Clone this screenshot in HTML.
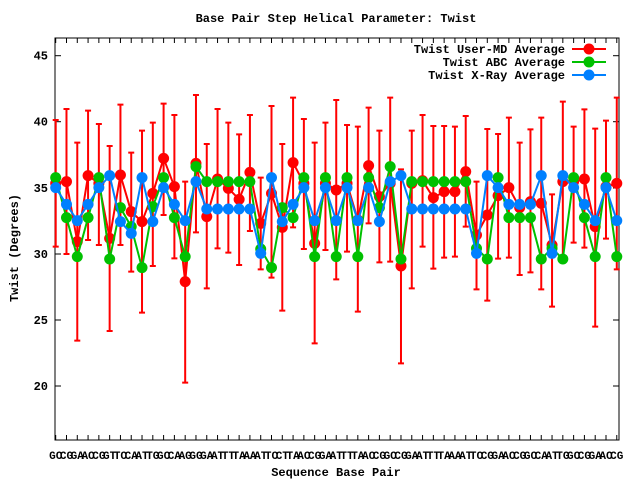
<!DOCTYPE html>
<html><head><meta charset="utf-8"><style>
html,body{margin:0;padding:0;background:#fff;}
svg{display:block;font-family:"Liberation Mono",monospace;font-weight:bold;}
</style></head><body>
<svg id="s" width="640" height="480" xmlns="http://www.w3.org/2000/svg">
<rect width="640" height="480" fill="#fff"/>
<text x="336" y="22" font-size="12" text-anchor="middle">Base Pair Step Helical Parameter: Twist</text>
<text x="336" y="476" font-size="12" text-anchor="middle">Sequence Base Pair</text>
<text transform="translate(18,248) rotate(-90)" font-size="12" text-anchor="middle">Twist (Degrees)</text>
<g id="g"></g>
</svg>
<script>
var R=[460,455,635,437,460,625,435,545,575,490,385,470,755,400,560,447,475,508,427,580,490,592,398,460,640,460,480,460,570,407,500,460,708,460,452,503,485,485,425,615,555,497,473,533,515,520,645,455,455,447,590,470,460];
var G=[443,563,680,563,443,687,533,590,713,530,443,563,680,410,455,455,455,455,455,657,713,533,563,443,680,443,680,443,680,443,533,410,687,455,455,455,455,455,455,655,687,443,563,563,563,687,655,687,443,563,680,443,680];
var B=[473,523,572,523,473,437,575,610,443,575,473,523,572,455,537,537,537,537,537,670,443,575,523,473,572,473,572,473,572,473,575,455,437,537,537,537,537,537,537,670,437,473,523,523,523,437,670,437,473,523,572,473,572];
var ET=[270,237,338,242,282,348,224,368,302,278,221,255,455,195,342,237,278,313,255,443,228,342,203,267,338,278,210,285,290,233,302,203,418,302,255,288,288,290,258,455,297,312,263,338,298,263,493,215,290,238,296,272,203];
var EB=[650,672,932,630,645,903,645,725,848,708,555,685,1058,607,775,655,668,705,603,718,743,842,592,657,940,660,748,665,845,580,697,695,1000,775,650,716,683,680,590,778,812,686,683,735,727,778,830,678,638,653,890,626,718];
var L=["GC","CG","GA","AC","CG","GT","TC","CA","AT","TG","GC","CA","AG","GG","GA","AT","TT","TA","AA","AT","TC","CT","TA","AC","CG","GA","AT","TT","TA","AC","CG","GC","CG","GA","AT","TT","TA","AA","AT","TC","CG","GA","AC","CG","GC","CA","AT","TG","GC","CG","GA","AC","CG"];
var y=function(z){return 30+z/3;}, x=function(i){return 55.7+i*10.79;};
var h='';
h+='<rect x="55" y="38" width="564" height="402" fill="none" stroke="#000" stroke-width="1"/>';
var ticks=[[45,55.7],[40,121.7],[35,188],[30,254],[25,320],[20,386]];
ticks.forEach(function(t){h+='<line x1="55" x2="61" y1="'+t[1]+'" y2="'+t[1]+'" stroke="#000"/><line x1="613" x2="619" y1="'+t[1]+'" y2="'+t[1]+'" stroke="#000"/><text x="48" y="'+(t[1]+4)+'" font-size="12" text-anchor="end">'+t[0]+'</text>';});
for(var i=0;i<53;i++){var xx=x(i);h+='<line x1="'+xx+'" x2="'+xx+'" y1="440" y2="435" stroke="#000"/><line x1="'+xx+'" x2="'+xx+'" y1="38" y2="43" stroke="#000"/><text x="'+xx+'" y="459" font-size="11" text-anchor="middle">'+L[i]+'</text>';}
function series(D,c,err){var p='';for(var i=0;i<53;i++){p+=(i?'L':'M')+x(i).toFixed(1)+','+y(D[i]).toFixed(1);}
 if(err){for(var i=0;i<53;i++){var xx=x(i);h+='<path d="M'+xx+','+y(ET[i])+'V'+y(EB[i])+'M'+(xx-3)+','+y(ET[i])+'h6M'+(xx-3)+','+y(EB[i])+'h6" stroke="'+c+'" stroke-width="2" fill="none"/>';}}
 h+='<path d="'+p+'" stroke="'+c+'" stroke-width="2" fill="none"/>';
 for(var i=0;i<53;i++)h+='<circle cx="'+x(i)+'" cy="'+y(D[i])+'" r="5.5" fill="'+c+'"/>';}
series(R,'#ff0000',1);series(G,'#00c000',0);series(B,'#0080ff',0);
var lg=[['Twist User-MD Average','#ff0000',49],['Twist ABC Average','#00c000',62],['Twist X-Ray Average','#0080ff',75]];
lg.forEach(function(l){h+='<text x="565" y="'+(l[2]+4)+'" font-size="12" text-anchor="end">'+l[0]+'</text><line x1="572" x2="606" y1="'+l[2]+'" y2="'+l[2]+'" stroke="'+l[1]+'" stroke-width="2"/><circle cx="589" cy="'+l[2]+'" r="5.5" fill="'+l[1]+'"/>';});
document.getElementById('g').innerHTML=h;
</script>
</body></html>
